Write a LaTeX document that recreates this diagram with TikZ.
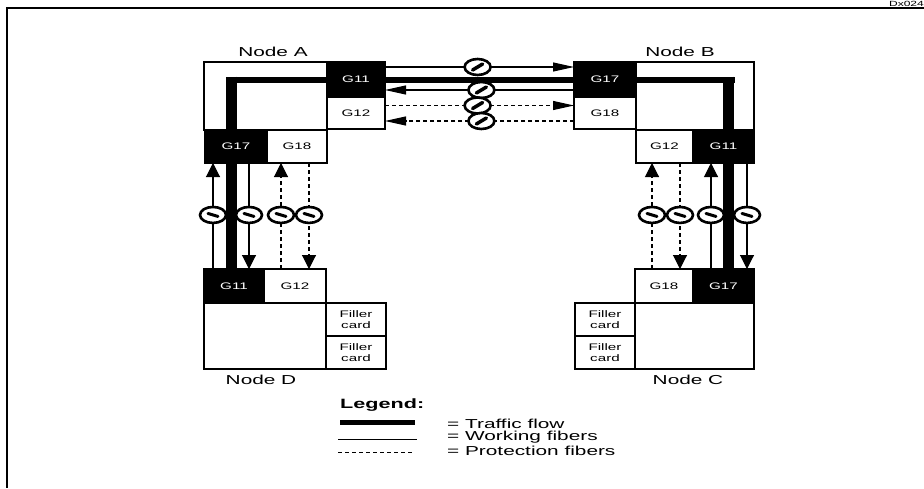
\documentclass[tikz,border=0pt]{standalone}
\usepackage{fontspec}
\setmainfont{Liberation Sans}
\newfontfamily\widefont[FakeStretch=1.6]{Liberation Sans}
\usetikzlibrary{arrows.meta,shapes.geometric,calc}
\tikzset{
  box/.style={draw=black,line width=1.6pt,fill=white,inner sep=0pt,outer sep=0pt,anchor=north west},
  whitecard/.style={box,font=\widefont\fontsize{9.5}{10}\selectfont},
  blackcard/.style={box,fill=black,text=white,font=\widefont\fontsize{9.5}{10}\selectfont},
  fillercard/.style={box,align=center,font=\widefont\fontsize{9.5}{11}\selectfont,line width=1.6pt},
  nodelabel/.style={font=\widefont\fontsize{13}{14}\selectfont,inner sep=0pt},
  legendtext/.style={font=\widefont\fontsize{13}{13}\selectfont,inner sep=0pt,anchor=west},
  flow/.style={line width=6pt,line cap=butt},
  flowv/.style={line width=11pt,line cap=butt},
  work/.style={line width=1.1pt},
  prot/.style={line width=1.1pt,dash pattern=on 4pt off 3pt},
  vtip/.style={-{Triangle[length=14pt,width=14pt]}},
  htip/.style={-{Triangle[length=21pt,width=9pt]}},
  cutH/.style={ellipse,draw=black,solid,line width=2.6pt,fill=white,minimum width=26pt,minimum height=16pt,inner sep=0pt,
    path picture={\draw[-,solid,line width=3.5pt,line cap=round] ($(path picture bounding box.center)+(-5,3)$) -- ($(path picture bounding box.center)+(5,-3)$);}},
  cutV/.style={ellipse,draw=black,solid,line width=2.6pt,fill=white,minimum width=26pt,minimum height=16pt,inner sep=0pt,
    path picture={\draw[-,solid,line width=3pt,line cap=round] ($(path picture bounding box.center)+(-5,-1.5)$) -- ($(path picture bounding box.center)+(5,1.5)$);}}
}
\begin{document}
\begin{tikzpicture}[x=1pt,y=-1pt]
\useasboundingbox (0,0) rectangle (924,488);
% frame
\coordinate (frameTR) at (924,8);
\coordinate (frameTL) at (7,8);
\coordinate (frameBL) at (7,488);
\draw[line width=1.3pt] (frameTR) -- (frameTL) -- (frameBL);
\node[font=\widefont\fontsize{7.5}{8}\selectfont,inner sep=0pt,anchor=east] (tag) at (924,3.5) {Dx024};
% node bodies
\node[box,minimum width=123pt,minimum height=68pt] (boxA) at (204,62) {};
\node[box,minimum width=118pt,minimum height=68pt] (boxB) at (636,62) {};
\node[box,minimum width=122pt,minimum height=66pt] (boxD) at (204,303) {};
\node[box,minimum width=119pt,minimum height=66pt] (boxC) at (635,303) {};
% traffic flow
\coordinate (aBend) at (231.5,79.5);
\coordinate (bBend) at (728.5,79.5);
% cards
\node[blackcard,minimum width=58pt,minimum height=35pt] (aG11) at (327,62) {G11};
\node[whitecard,minimum width=58pt,minimum height=32pt] (aG12) at (327,97) {G12};
\node[blackcard,minimum width=62pt,minimum height=33pt] (aG17) at (205,130) {G17};
\node[whitecard,minimum width=60pt,minimum height=33pt] (aG18) at (267,130) {G18};
\node[blackcard,minimum width=62pt,minimum height=35pt] (bG17) at (574,62) {G17};
\node[whitecard,minimum width=62pt,minimum height=32pt] (bG18) at (574,97) {G18};
\node[whitecard,minimum width=57pt,minimum height=33pt] (bG12) at (636,130) {G12};
\node[blackcard,minimum width=61pt,minimum height=33pt] (bG11) at (693,130) {G11};
\node[blackcard,minimum width=60pt,minimum height=34pt] (dG11) at (204,269) {G11};
\node[whitecard,minimum width=62pt,minimum height=34pt] (dG12) at (264,269) {G12};
\node[whitecard,minimum width=58pt,minimum height=34pt] (cG18) at (635,269) {G18};
\node[blackcard,minimum width=61pt,minimum height=34pt] (cG17) at (693,269) {G17};
\node[fillercard,minimum width=60pt,minimum height=33pt] (dF1) at (326,303) {Filler\\card};
\node[fillercard,minimum width=60pt,minimum height=33pt] (dF2) at (326,336) {Filler\\card};
\node[fillercard,minimum width=60pt,minimum height=33pt] (cF1) at (575,303) {Filler\\card};
\node[fillercard,minimum width=60pt,minimum height=33pt] (cF2) at (575,336) {Filler\\card};
% thick traffic flow lines
\draw[flow] (aG11.west |- aBend) -- (226,79.5);
\draw[flowv] (231.5,76.5) -- (aBend |- aG17.north);
\draw[flowv] (aBend |- aG17.south) -- (aBend |- dG11.north);
\draw[flow] (aG11.east |- aBend) -- (bG17.west |- aBend);
\draw[flow] (bG17.east |- bBend) -- (735,79.5);
\draw[flowv] (728.5,76.5) -- (bBend |- bG11.north);
\draw[flowv] (bBend |- bG11.south) -- (bBend |- cG17.north);
% horizontal fibres
\draw[work,htip] (aG11.east |- 0,67) -- node[cutH,pos=0.49] (c1) {} (bG17.west |- 0,67);
\draw[work,htip] (bG17.west |- 0,90) -- node[cutH,pos=0.49] (c2) {} (aG11.east |- 0,90);
\draw[prot,htip] (aG12.east |- 0,105.5) -- node[cutH,pos=0.49] (c3) {} (bG18.west |- 0,105.5);
\draw[prot,htip] (bG18.west |- 0,121) -- node[cutH,pos=0.49] (c4) {} (aG12.east |- 0,121);
% left vertical fibres
\draw[work,vtip] (213,269) -- node[cutV,pos=0.51] (c5) {} (213,163);
\draw[work,vtip] (249,163) -- node[cutV,pos=0.49] (c6) {} (249,269);
\draw[prot,vtip] (281,269) -- node[cutV,pos=0.51] (c7) {} (281,163);
\draw[prot,vtip] (309,163) -- node[cutV,pos=0.49] (c8) {} (309,269);
% right vertical fibres
\draw[prot,vtip] (652,269) -- node[cutV,pos=0.51] (c9) {} (652,163);
\draw[prot,vtip] (680,163) -- node[cutV,pos=0.49] (c10) {} (680,269);
\draw[work,vtip] (711,269) -- node[cutV,pos=0.51] (c11) {} (711,163);
\draw[work,vtip] (747,163) -- node[cutV,pos=0.49] (c12) {} (747,269);
% labels
\node[nodelabel] (lA) at (273,52) {Node A};
\node[nodelabel] (lB) at (680,52) {Node B};
\node[nodelabel] (lD) at (261,380) {Node D};
\node[nodelabel] (lC) at (688,380) {Node C};
% legend
\node[inner sep=0pt,anchor=west,font=\widefont\bfseries\fontsize{13.5}{14}\selectfont] (lgd) at (340,405) {Legend:};
\coordinate (l1a) at (340,422); \coordinate (l1b) at (415,422);
\coordinate (l2a) at (338,439); \coordinate (l2b) at (417,439);
\coordinate (l3a) at (338,452); \coordinate (l3b) at (412,452);
\draw[line width=5pt] (l1a) -- (l1b);
\draw[line width=0.8pt] (l2a) -- (l2b);
\draw[prot,line width=0.8pt] (l3a) -- (l3b);
\node[legendtext] (t1) at (447,423.5) {= Traffic flow};
\node[legendtext] (t2) at (447,437.5) {= Working fibers};
\node[legendtext] (t3) at (447,451) {= Protection fibers};
\end{tikzpicture}
\end{document}
